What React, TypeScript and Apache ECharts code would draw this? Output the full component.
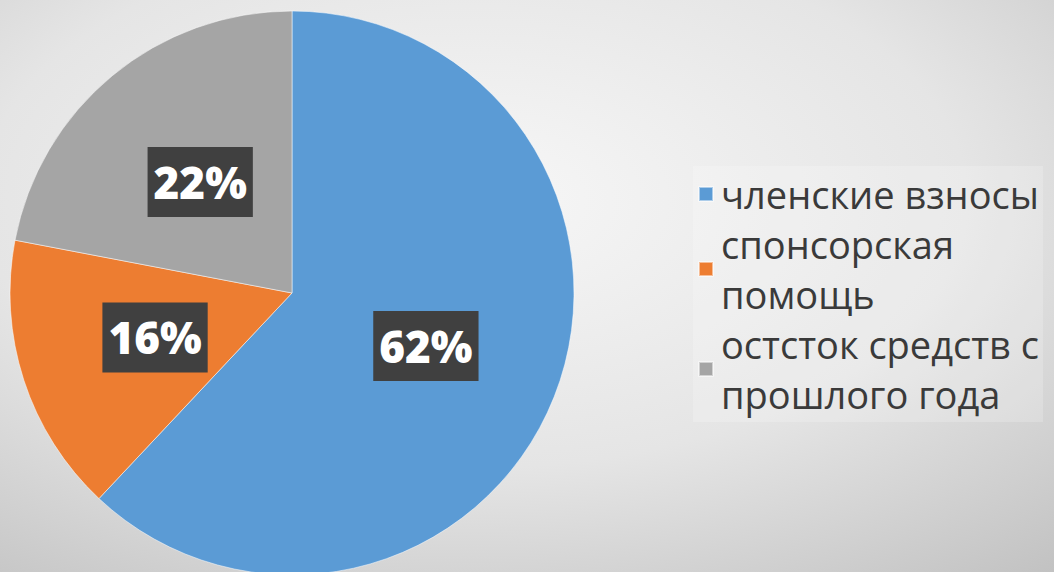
import React, { useEffect, useRef } from "react";
import * as echarts from "echarts";

const categories = ["членские взносы", "спонсорская помощь", "остсток средств с прошлого года"];
const legendLabels = ["членские взносы", "спонсорская\nпомощь", "остсток средств с\nпрошлого года"];
const values = [62, 16, 22];
const colors = ["#5B9BD5", "#ED7D31", "#A5A5A5"];

export default function App() {
  const ref = useRef<HTMLDivElement>(null);
  useEffect(() => {
    document.body.style.margin = "0";
    const chart = echarts.init(ref.current!, null, { renderer: "svg" });
    chart.setOption({
      animation: false,
      backgroundColor: {
        type: "radial",
        x: 0.45,
        y: 0.35,
        r: 0.85,
        colorStops: [
          { offset: 0, color: "#f7f7f7" },
          { offset: 0.55, color: "#e5e5e5" },
          { offset: 1, color: "#c2c2c2" },
        ],
      },
      legend: {
        orient: "vertical",
        left: 693,
        top: 166,
        itemGap: 0,
        itemWidth: 14,
        itemHeight: 14,
        icon: "rect",
        padding: [3, 4, 3, 5],
        backgroundColor: "rgba(255,255,255,0.2)",
        formatter: (name: string) => legendLabels[categories.indexOf(name)],
        textStyle: {
          fontFamily: "Open Sans",
          fontSize: 38,
          fontWeight: 500,
          color: "#3a3a3a",
          lineHeight: 50,
          padding: [0, 0, 0, 3],
        },
        data: categories,
      },
      series: [
        {
          type: "pie",
          center: [292, 293],
          radius: [0, 282],
          startAngle: 90,
          clockwise: true,
          data: categories.map((n, i) => ({
            name: n,
            value: values[i],
            itemStyle: { color: colors[i] },
          })),
          itemStyle: { borderColor: "rgba(255,255,255,0.5)", borderWidth: 1 },
          label: {
            show: true,
            position: "inside",
            formatter: "{c}%",
            color: "#ffffff",
            fontFamily: "Open Sans",
            fontWeight: 800,
            fontSize: 44,
            backgroundColor: "#404040",
            padding: [10, 6, 8, 6],
            lineHeight: 52,
          },
          labelLine: { show: false },
          emphasis: { disabled: true },
        },
      ],
    });
    return () => chart.dispose();
  }, []);
  return <div ref={ref} style={{ width: 1054, height: 572 }} />;
}
